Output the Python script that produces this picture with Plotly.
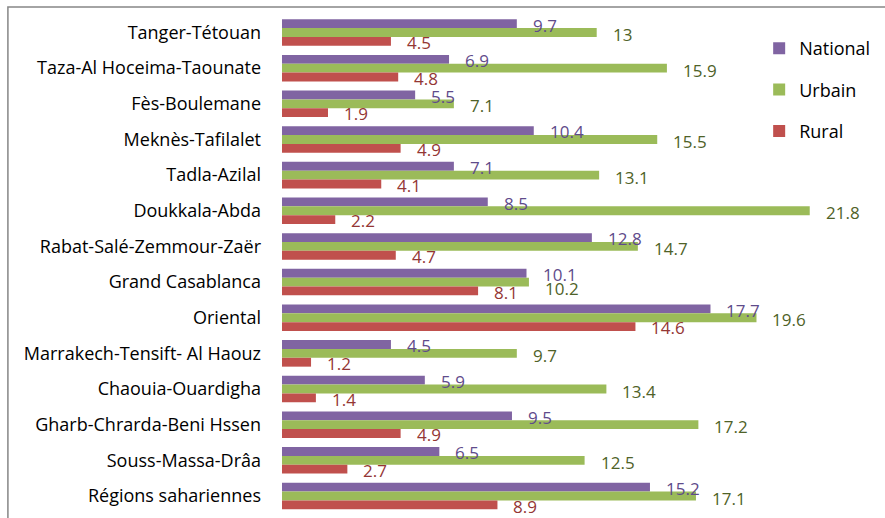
import plotly.graph_objects as go

regions = ["Tanger-Tétouan", "Taza-Al Hoceima-Taounate", "Fès-Boulemane", "Meknès-Tafilalet",
           "Tadla-Azilal", "Doukkala-Abda", "Rabat-Salé-Zemmour-Zaër", "Grand Casablanca",
           "Oriental", "Marrakech-Tensift- Al Haouz", "Chaouia-Ouardigha",
           "Gharb-Chrarda-Beni Hssen", "Souss-Massa-Drâa", "Régions sahariennes"]
national = [9.7, 6.9, 5.5, 10.4, 7.1, 8.5, 12.8, 10.1, 17.7, 4.5, 5.9, 9.5, 6.5, 15.2]
urbain = [13, 15.9, 7.1, 15.5, 13.1, 21.8, 14.7, 10.2, 19.6, 9.7, 13.4, 17.2, 12.5, 17.1]
rural = [4.5, 4.8, 1.9, 4.9, 4.1, 2.2, 4.7, 8.1, 14.6, 1.2, 1.4, 4.9, 2.7, 8.9]

W, H = 885, 518
L, T = 282, 9
PX_PER_UNIT = 24.2
XMAX = 24
PW = PX_PER_UNIT * XMAX
PH = 508
R = W - L - PW
B = H - T - PH

FONT = "Open Sans"
series = [
    ("National", national, "#8064A2", "#5F4B8B", 7.5),
    ("Urbain", urbain, "#9BBB59", "#4F6228", -2),
    ("Rural", rural, "#C0504D", "#943634", -10),
]

fig = go.Figure()
annotations = []
for name, vals, col, tcol, ysh in series:
    fig.add_trace(go.Bar(
        name=name, y=regions, x=vals, orientation="h",
        marker=dict(color=col, line=dict(width=0)),
        legendgroup=name,
    ))
for name, vals, col, tcol, ysh in series:
    for k, (reg, v) in enumerate(zip(regions, vals)):
        shift = ysh
        # push the Urbain label down when it would collide with the National one
        if name == "Urbain" and abs(urbain[k] - national[k]) < 1.0:
            shift = ysh - 4
        annotations.append(dict(
            x=v, y=reg, xref="x", yref="y", text=f"{v:g}", showarrow=False,
            xanchor="left", yanchor="middle", xshift=14, yshift=shift,
            font=dict(family=FONT, size=17, color=tcol),
        ))

def px_x(p):
    return (p - L) / PW

def px_y(p):
    return 1 - (p - T) / PH

fig.update_layout(
    width=W, height=H,
    margin=dict(l=L, r=R, t=T, b=B, pad=0, autoexpand=False),
    paper_bgcolor="white", plot_bgcolor="white",
    barmode="group", bargap=0.256, bargroupgap=0,
    font=dict(family=FONT, size=18, color="black"),
    xaxis=dict(range=[0, XMAX], showticklabels=False, showgrid=False, zeroline=False,
               showline=False, ticks=""),
    yaxis=dict(autorange="reversed", showgrid=False, zeroline=False, showline=False,
               ticks="", ticklabelstandoff=20, automargin=False,
               tickfont=dict(family=FONT, size=18, color="black")),
    legend=dict(x=px_x(759), y=px_y(30), xanchor="left", yanchor="top",
                traceorder="grouped", tracegroupgap=15,
                font=dict(family=FONT, size=18, color="black"),
                itemwidth=30, bgcolor="rgba(0,0,0,0)"),
    annotations=annotations,
    shapes=[dict(type="rect", xref="paper", yref="paper",
                 x0=px_x(8), x1=px_x(900), y0=px_y(7), y1=px_y(530),
                 line=dict(color="#868686", width=1.5), fillcolor="rgba(0,0,0,0)", layer="below")],
)

fig.write_html("out.html", config={"displayModeBar": False},
               post_script="document.body.style.margin='0';document.body.style.overflow='hidden';")
